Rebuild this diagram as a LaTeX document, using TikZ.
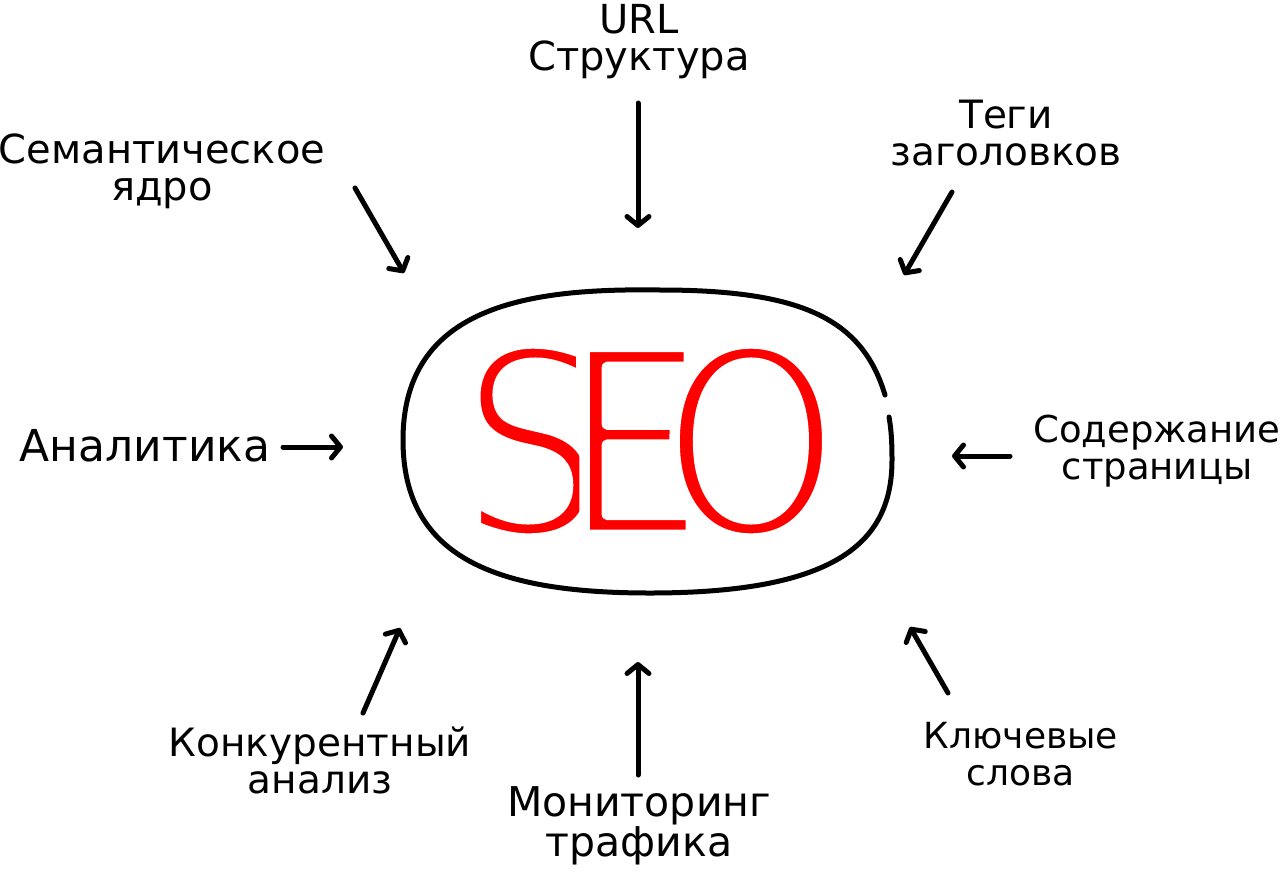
\documentclass[tikz,border=0pt]{standalone}
\usepackage{fontspec}
\setmainfont{DejaVu Sans}
\usepackage{graphicx}
\usetikzlibrary{arrows.meta}
\definecolor{seored}{RGB}{255,0,0}
\newcommand{\seothin}{\special{pdf:literal direct 1 1 1 RG 2 Tr 12 w 1 j}}
\newcommand{\seoplain}{\special{pdf:literal direct 0 Tr}}
\begin{document}
\begin{tikzpicture}[x=1pt,y=-1pt,
  lbl/.style={font=\fontsize{#1}{37}\selectfont, align=center, inner sep=0pt},
  lbl/.default=39,
  arr/.style={line width=5pt, line cap=round, -{Straight Barb[length=9pt,width=22pt,line cap=round,line join=round]}},
  outline/.style={line width=5pt, line cap=round}]
\useasboundingbox (0,0) rectangle (1282,873);

% centre word
\node[inner sep=0pt] (seo) at (650,441) {\scalebox{0.87}[1]{\fontsize{260}{260}\selectfont\color{seored}\seothin S\kern-48pt E\kern-50pt O\seoplain}};
\draw[outline] (885,395) .. controls (862,318) and (800,290) .. (660,290)
  .. controls (530,288) and (403,305) .. (403,440)
  .. controls (403,560) and (500,593) .. (650,593)
  .. controls (840,593) and (892,540) .. (892,460)
  .. controls (892,440) and (891,428) .. (889,417);

% labels
\node[lbl=40] (url)  at (639,42)   {URL\\Структура};
\node[lbl]    (tags) at (1006,133) {Теги\\заголовков};
\node[lbl=40] (sem)  at (162,171)  {Семантическое\\ядро};
\node[lbl=44] (anal) at (145,446)  {Аналитика};
\node[lbl=37] (sod)  at (1157,451) {Содержание\\страницы};
\node[lbl]    (konk) at (320,760)  {Конкурентный\\анализ};
\node[lbl=41] (mon)  at (639,826)  {Мониторинг\\трафика};
\node[lbl=36] (kl)   at (1021,754) {Ключевые\\слова};

% arrow end points
\coordinate (url-a)  at (638,103);  \coordinate (url-b)  at (638,228);
\coordinate (tags-a) at (952,192);  \coordinate (tags-b) at (904,275);
\coordinate (sem-a)  at (355,188);  \coordinate (sem-b)  at (404,273);
\coordinate (anal-a) at (283,447);  \coordinate (anal-b) at (343,447);
\coordinate (sod-a)  at (1010,456); \coordinate (sod-b)  at (952,456);
\coordinate (konk-a) at (363,713);  \coordinate (konk-b) at (400,628);
\coordinate (mon-a)  at (638,775);  \coordinate (mon-b)  at (638,662);
\coordinate (kl-a)   at (948,693);  \coordinate (kl-b)   at (910,627);

\draw[arr] (url-a) -- (url-b);
\draw[arr] (tags-a) -- (tags-b);
\draw[arr] (sem-a) -- (sem-b);
\draw[arr] (anal-a) -- (anal-b);
\draw[arr] (sod-a) -- (sod-b);
\draw[arr] (konk-a) -- (konk-b);
\draw[arr] (mon-a) -- (mon-b);
\draw[arr] (kl-a) -- (kl-b);
\end{tikzpicture}
\end{document}
